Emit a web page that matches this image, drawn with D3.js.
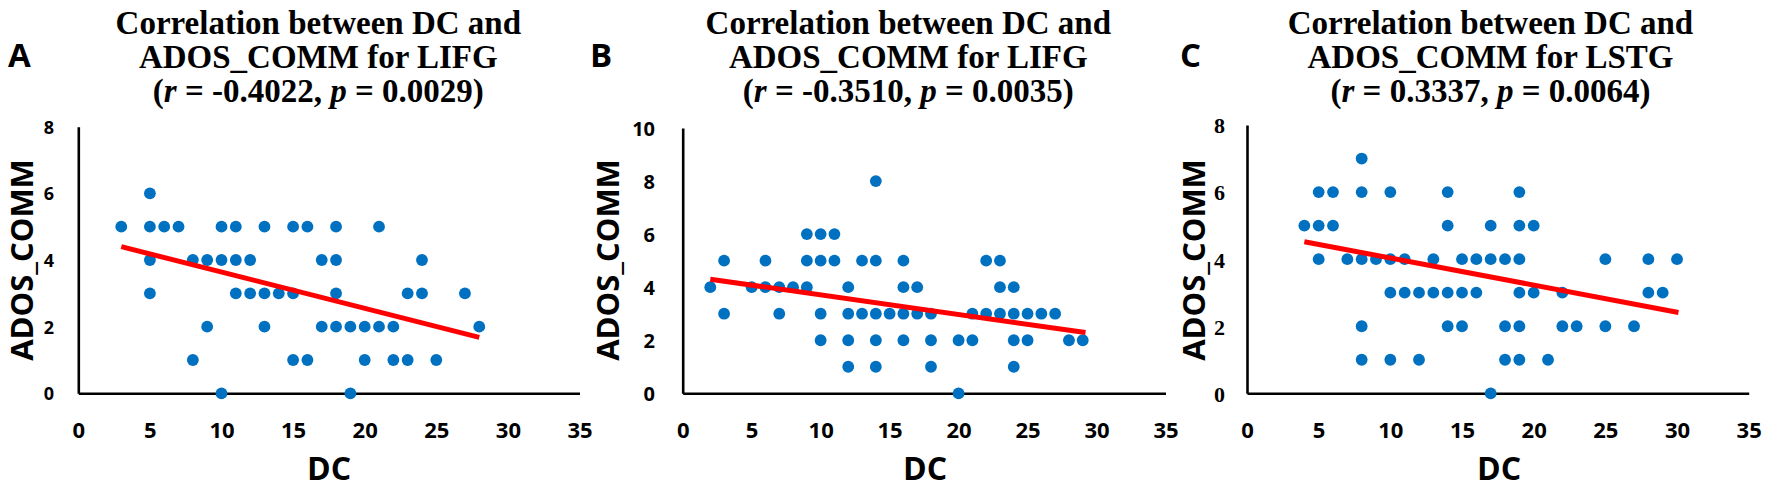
<!DOCTYPE html>
<html>
<head>
<meta charset="utf-8">
<script src="https://cdn.jsdelivr.net/npm/d3@7"></script>
<style>
  body { margin: 0; background: #fff; }
  svg { display: block; }
</style>
</head>
<body>
<div class="chart"></div>
<script>
'use strict'

// panel A: DC vs ADOS_COMM, LIFG
const dcA   = [5, 3,5,6,7,10,11,13,15,16,18,21, 5,8,9,10,11,12,17,18,24, 5,11,12,13,14,15,18,23,24,27, 9,13,17,18,19,20,21,22,28, 8,15,16,20,22,23,25, 10,19]
const adosA = [6, 5,5,5,5,5,5,5,5,5,5,5, 4,4,4,4,4,4,4,4,4, 3,3,3,3,3,3,3,3,3,3, 2,2,2,2,2,2,2,2,2, 1,1,1,1,1,1,1, 0,0]
const trendA = [[3, 4.4], [28, 1.68]]

// panel B: DC vs ADOS_COMM, LIFG
const dcB   = [14, 9,10,11, 3,6,9,10,11,13,14,16,22,23, 2,5,6,7,8,9,12,16,17,23,24, 3,7,10,12,13,14,15,16,17,18,21,22,23,24,25,26,27, 10,12,14,16,18,20,21,24,25,28,29, 12,14,18,24, 20]
const adosB = [8, 6,6,6, 5,5,5,5,5,5,5,5,5,5, 4,4,4,4,4,4,4,4,4,4,4, 3,3,3,3,3,3,3,3,3,3,3,3,3,3,3,3,3, 2,2,2,2,2,2,2,2,2,2,2, 1,1,1,1, 0]
const trendB = [[2, 4.3], [29.2, 2.29]]

// panel C: DC vs ADOS_COMM, LSTG
const dcC   = [8, 5,6,8,10,14,19, 4,5,6,14,17,19,20, 5,7,8,9,10,11,13,15,16,17,18,19,25,28,30, 10,11,12,13,14,15,16,19,20,22,28,29, 8,14,15,18,19,22,23,25,27, 8,10,12,18,19,21, 17]
const adosC = [7, 6,6,6,6,6,6, 5,5,5,5,5,5,5, 4,4,4,4,4,4,4,4,4,4,4,4,4,4,4, 3,3,3,3,3,3,3,3,3,3,3,3, 2,2,2,2,2,2,2,2,2, 1,1,1,1,1,1, 0]
const trendC = [[4, 4.52], [30.1, 2.41]]

const xTicks = [0, 5, 10, 15, 20, 25, 30, 35]
const yTicksA = [0, 2, 4, 6, 8]
const yTicksB = [0, 2, 4, 6, 8, 10]
const yTicksC = [0, 2, 4, 6, 8]

const panels = [
  { letter: 'A', region: 'LIFG', r: '-0.4022', p: '0.0029', dc: dcA, ados: adosA, trend: trendA, yTicks: yTicksA,
    x0: 78.3, x1: 579.5, yTop: 126.7, titleX: 318.3, yTitleX: 22, letterX: 8, dcX: 329,
    yFont: 'Open Sans, sans-serif', ySize: 18, yLabelX: 54 },
  { letter: 'B', region: 'LIFG', r: '-0.3510', p: '0.0035', dc: dcB, ados: adosB, trend: trendB, yTicks: yTicksB,
    x0: 682.7, x1: 1165.5, yTop: 128, titleX: 908.3, yTitleX: 608, letterX: 590, dcX: 925,
    yFont: 'Open Sans, sans-serif', ySize: 20, yLabelX: 655 },
  { letter: 'C', region: 'LSTG', r: '0.3337', p: '0.0064', dc: dcC, ados: adosC, trend: trendC, yTicks: yTicksC,
    x0: 1247, x1: 1748.7, yTop: 125, titleX: 1490.5, yTitleX: 1194, letterX: 1180, dcX: 1499,
    yFont: 'Liberation Serif, Times New Roman, serif', ySize: 22, yLabelX: 1225 }
]

const width = 1772
const height = 488
const yBottom = 393.3

const svg = d3.select('.chart').append('svg')
    .attr('width', width)
    .attr('height', height)

panels.forEach(function(pn) {
  const yMax = d3.max(pn.yTicks)
  const x = d3.scaleLinear().domain([0, 35]).range([pn.x0, pn.x1])
  const y = d3.scaleLinear().domain([0, yMax]).range([yBottom, pn.yTop])

  const g = svg.append('g')

  // title, three lines
  const title = g.append('text')
      .attr('x', pn.titleX)
      .attr('text-anchor', 'middle')
      .style('font-family', 'Liberation Serif, Times New Roman, serif')
      .style('font-weight', 'bold')
      .style('font-size', '33px')
      .attr('fill', '#000')
  title.append('tspan').attr('x', pn.titleX).attr('y', 34.3).text('Correlation between DC and')
  title.append('tspan').attr('x', pn.titleX).attr('y', 68.3).text('ADOS_COMM for ' + pn.region)
  const l3 = title.append('tspan').attr('x', pn.titleX).attr('y', 101.7)
  l3.append('tspan').text('(')
  l3.append('tspan').style('font-style', 'italic').text('r')
  l3.append('tspan').text(' = ' + pn.r + ', ')
  l3.append('tspan').style('font-style', 'italic').text('p')
  l3.append('tspan').text(' = ' + pn.p + ')')

  // panel letter
  g.append('text')
      .attr('x', pn.letterX)
      .attr('y', 67)
      .style('font-family', 'Open Sans, sans-serif')
      .style('font-weight', 'bold')
      .style('font-size', '33px')
      .text(pn.letter)

  // axes: plain lines, no tick marks
  const xAxis = g.append('g')
      .attr('transform', 'translate(0,' + yBottom + ')')
      .call(d3.axisBottom(x).tickValues(xTicks).tickSize(0).tickPadding(0))
  xAxis.select('.domain').attr('stroke', '#000').attr('stroke-width', 2.6)
  xAxis.selectAll('text')
      .attr('y', 45)
      .attr('dy', 0)
      .style('font-family', 'Open Sans, sans-serif')
      .style('font-weight', 'bold')
      .style('font-size', '22px')
      .attr('fill', '#000')

  const yAxis = g.append('g')
      .attr('transform', 'translate(' + pn.x0 + ',0)')
      .call(d3.axisLeft(y).tickValues(pn.yTicks).tickSize(0).tickPadding(0))
  yAxis.select('.domain').attr('stroke', '#000').attr('stroke-width', 2.6)
  yAxis.selectAll('text')
      .attr('x', pn.yLabelX - pn.x0)
      .attr('dy', '0.36em')
      .style('font-family', pn.yFont)
      .style('font-weight', 'bold')
      .style('font-size', pn.ySize + 'px')
      .attr('fill', '#000')

  // axis titles
  g.append('text')
      .attr('transform', 'translate(' + (pn.yTitleX + 11) + ',260) rotate(-90)')
      .attr('text-anchor', 'middle')
      .style('font-family', 'Open Sans, sans-serif')
      .style('font-weight', 'bold')
      .style('font-size', '31px')
      .text('ADOS_COMM')

  g.append('text')
      .attr('x', pn.dcX)
      .attr('y', 479.5)
      .attr('text-anchor', 'middle')
      .style('font-family', 'Open Sans, sans-serif')
      .style('font-weight', 'bold')
      .style('font-size', '32px')
      .text('DC')

  // points
  const pts = pn.dc.map((d, i) => ({ dc: d, ados: pn.ados[i] }))
  g.selectAll('.dot')
      .data(pts)
    .enter().append('circle')
      .attr('class', 'dot')
      .attr('cx', d => x(d.dc))
      .attr('cy', d => y(d.ados))
      .attr('r', 5.9)
      .attr('fill', '#0070C0')

  // trend line
  g.append('path')
      .datum(pn.trend)
      .attr('d', d3.line().x(d => x(d[0])).y(d => y(d[1])))
      .attr('fill', 'none')
      .attr('stroke', '#FF0000')
      .attr('stroke-width', 5)
})
</script>
</body>
</html>
